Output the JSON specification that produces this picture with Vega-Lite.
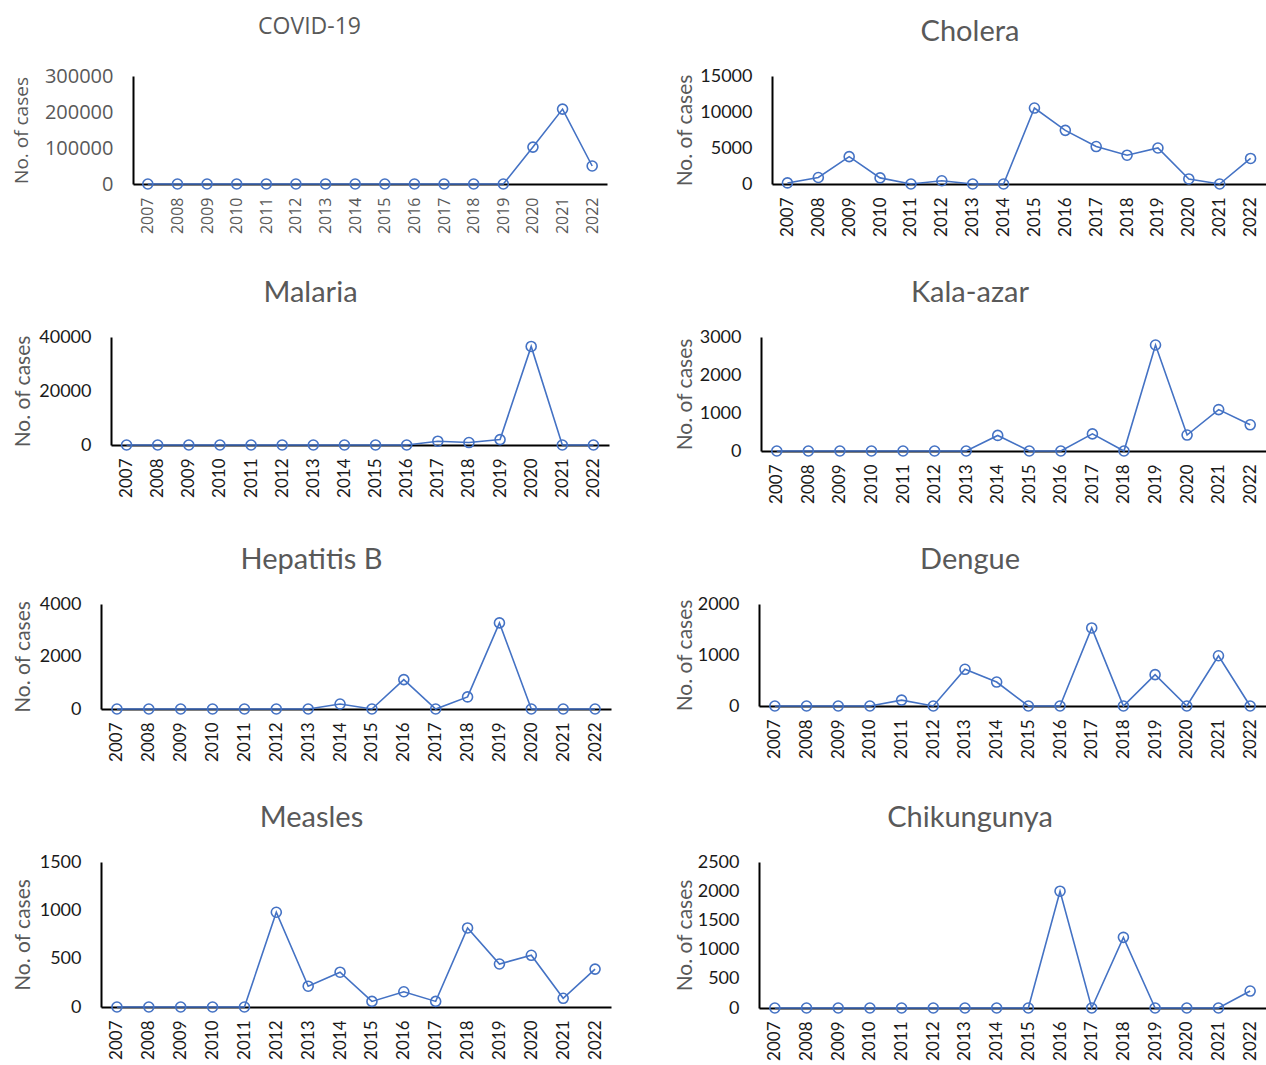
{
  "$schema": "https://vega.github.io/schema/vega-lite/v6.json",
  "padding": {"left": 0, "top": 16, "right": 0, "bottom": 0},
  "background": "white",
  "datasets": {
    "cases": [
      {"disease": "COVID-19", "year": "2007", "cases": 0},
      {"disease": "COVID-19", "year": "2008", "cases": 0},
      {"disease": "COVID-19", "year": "2009", "cases": 0},
      {"disease": "COVID-19", "year": "2010", "cases": 0},
      {"disease": "COVID-19", "year": "2011", "cases": 0},
      {"disease": "COVID-19", "year": "2012", "cases": 0},
      {"disease": "COVID-19", "year": "2013", "cases": 0},
      {"disease": "COVID-19", "year": "2014", "cases": 0},
      {"disease": "COVID-19", "year": "2015", "cases": 0},
      {"disease": "COVID-19", "year": "2016", "cases": 0},
      {"disease": "COVID-19", "year": "2017", "cases": 0},
      {"disease": "COVID-19", "year": "2018", "cases": 0},
      {"disease": "COVID-19", "year": "2019", "cases": 0},
      {"disease": "COVID-19", "year": "2020", "cases": 102500},
      {"disease": "COVID-19", "year": "2021", "cases": 208000},
      {"disease": "COVID-19", "year": "2022", "cases": 50000},

      {"disease": "Cholera", "year": "2007", "cases": 150},
      {"disease": "Cholera", "year": "2008", "cases": 900},
      {"disease": "Cholera", "year": "2009", "cases": 3800},
      {"disease": "Cholera", "year": "2010", "cases": 850},
      {"disease": "Cholera", "year": "2011", "cases": 0},
      {"disease": "Cholera", "year": "2012", "cases": 450},
      {"disease": "Cholera", "year": "2013", "cases": 0},
      {"disease": "Cholera", "year": "2014", "cases": 0},
      {"disease": "Cholera", "year": "2015", "cases": 10550},
      {"disease": "Cholera", "year": "2016", "cases": 7450},
      {"disease": "Cholera", "year": "2017", "cases": 5200},
      {"disease": "Cholera", "year": "2018", "cases": 4000},
      {"disease": "Cholera", "year": "2019", "cases": 5000},
      {"disease": "Cholera", "year": "2020", "cases": 700},
      {"disease": "Cholera", "year": "2021", "cases": 0},
      {"disease": "Cholera", "year": "2022", "cases": 3550},

      {"disease": "Malaria", "year": "2007", "cases": 0},
      {"disease": "Malaria", "year": "2008", "cases": 0},
      {"disease": "Malaria", "year": "2009", "cases": 0},
      {"disease": "Malaria", "year": "2010", "cases": 0},
      {"disease": "Malaria", "year": "2011", "cases": 0},
      {"disease": "Malaria", "year": "2012", "cases": 0},
      {"disease": "Malaria", "year": "2013", "cases": 0},
      {"disease": "Malaria", "year": "2014", "cases": 0},
      {"disease": "Malaria", "year": "2015", "cases": 0},
      {"disease": "Malaria", "year": "2016", "cases": 0},
      {"disease": "Malaria", "year": "2017", "cases": 1400},
      {"disease": "Malaria", "year": "2018", "cases": 900},
      {"disease": "Malaria", "year": "2019", "cases": 2000},
      {"disease": "Malaria", "year": "2020", "cases": 36500},
      {"disease": "Malaria", "year": "2021", "cases": 0},
      {"disease": "Malaria", "year": "2022", "cases": 0},

      {"disease": "Kala-azar", "year": "2007", "cases": 0},
      {"disease": "Kala-azar", "year": "2008", "cases": 0},
      {"disease": "Kala-azar", "year": "2009", "cases": 0},
      {"disease": "Kala-azar", "year": "2010", "cases": 0},
      {"disease": "Kala-azar", "year": "2011", "cases": 0},
      {"disease": "Kala-azar", "year": "2012", "cases": 0},
      {"disease": "Kala-azar", "year": "2013", "cases": 0},
      {"disease": "Kala-azar", "year": "2014", "cases": 410},
      {"disease": "Kala-azar", "year": "2015", "cases": 0},
      {"disease": "Kala-azar", "year": "2016", "cases": 0},
      {"disease": "Kala-azar", "year": "2017", "cases": 450},
      {"disease": "Kala-azar", "year": "2018", "cases": 0},
      {"disease": "Kala-azar", "year": "2019", "cases": 2790},
      {"disease": "Kala-azar", "year": "2020", "cases": 420},
      {"disease": "Kala-azar", "year": "2021", "cases": 1090},
      {"disease": "Kala-azar", "year": "2022", "cases": 690},

      {"disease": "Hepatitis B", "year": "2007", "cases": 0},
      {"disease": "Hepatitis B", "year": "2008", "cases": 0},
      {"disease": "Hepatitis B", "year": "2009", "cases": 0},
      {"disease": "Hepatitis B", "year": "2010", "cases": 0},
      {"disease": "Hepatitis B", "year": "2011", "cases": 0},
      {"disease": "Hepatitis B", "year": "2012", "cases": 0},
      {"disease": "Hepatitis B", "year": "2013", "cases": 0},
      {"disease": "Hepatitis B", "year": "2014", "cases": 190},
      {"disease": "Hepatitis B", "year": "2015", "cases": 0},
      {"disease": "Hepatitis B", "year": "2016", "cases": 1120},
      {"disease": "Hepatitis B", "year": "2017", "cases": 0},
      {"disease": "Hepatitis B", "year": "2018", "cases": 460},
      {"disease": "Hepatitis B", "year": "2019", "cases": 3280},
      {"disease": "Hepatitis B", "year": "2020", "cases": 0},
      {"disease": "Hepatitis B", "year": "2021", "cases": 0},
      {"disease": "Hepatitis B", "year": "2022", "cases": 0},

      {"disease": "Dengue", "year": "2007", "cases": 0},
      {"disease": "Dengue", "year": "2008", "cases": 0},
      {"disease": "Dengue", "year": "2009", "cases": 0},
      {"disease": "Dengue", "year": "2010", "cases": 0},
      {"disease": "Dengue", "year": "2011", "cases": 115},
      {"disease": "Dengue", "year": "2012", "cases": 0},
      {"disease": "Dengue", "year": "2013", "cases": 720},
      {"disease": "Dengue", "year": "2014", "cases": 470},
      {"disease": "Dengue", "year": "2015", "cases": 0},
      {"disease": "Dengue", "year": "2016", "cases": 0},
      {"disease": "Dengue", "year": "2017", "cases": 1530},
      {"disease": "Dengue", "year": "2018", "cases": 0},
      {"disease": "Dengue", "year": "2019", "cases": 615},
      {"disease": "Dengue", "year": "2020", "cases": 0},
      {"disease": "Dengue", "year": "2021", "cases": 985},
      {"disease": "Dengue", "year": "2022", "cases": 0},

      {"disease": "Measles", "year": "2007", "cases": 0},
      {"disease": "Measles", "year": "2008", "cases": 0},
      {"disease": "Measles", "year": "2009", "cases": 0},
      {"disease": "Measles", "year": "2010", "cases": 0},
      {"disease": "Measles", "year": "2011", "cases": 0},
      {"disease": "Measles", "year": "2012", "cases": 980},
      {"disease": "Measles", "year": "2013", "cases": 215},
      {"disease": "Measles", "year": "2014", "cases": 360},
      {"disease": "Measles", "year": "2015", "cases": 58},
      {"disease": "Measles", "year": "2016", "cases": 158},
      {"disease": "Measles", "year": "2017", "cases": 58},
      {"disease": "Measles", "year": "2018", "cases": 818},
      {"disease": "Measles", "year": "2019", "cases": 445},
      {"disease": "Measles", "year": "2020", "cases": 535},
      {"disease": "Measles", "year": "2021", "cases": 90},
      {"disease": "Measles", "year": "2022", "cases": 392},

      {"disease": "Chikungunya", "year": "2007", "cases": 0},
      {"disease": "Chikungunya", "year": "2008", "cases": 0},
      {"disease": "Chikungunya", "year": "2009", "cases": 0},
      {"disease": "Chikungunya", "year": "2010", "cases": 0},
      {"disease": "Chikungunya", "year": "2011", "cases": 0},
      {"disease": "Chikungunya", "year": "2012", "cases": 0},
      {"disease": "Chikungunya", "year": "2013", "cases": 0},
      {"disease": "Chikungunya", "year": "2014", "cases": 0},
      {"disease": "Chikungunya", "year": "2015", "cases": 0},
      {"disease": "Chikungunya", "year": "2016", "cases": 2000},
      {"disease": "Chikungunya", "year": "2017", "cases": 0},
      {"disease": "Chikungunya", "year": "2018", "cases": 1210},
      {"disease": "Chikungunya", "year": "2019", "cases": 0},
      {"disease": "Chikungunya", "year": "2020", "cases": 0},
      {"disease": "Chikungunya", "year": "2021", "cases": 0},
      {"disease": "Chikungunya", "year": "2022", "cases": 290}
    ]
  },
  "data": {"name": "cases"},
  "spacing": 42,
  "vconcat": [
    {
      "spacing": 6,
      "hconcat": [
        {"width": 6, "height": 1, "transform": [{"filter": "false"}], "mark": "rule", "encoding": {}},
        {
          "title": {"text": "COVID-19", "font": "Open Sans", "fontSize": 23, "offset": 27},
          "width": 474, "height": 108,
          "transform": [{"filter": "datum.disease === 'COVID-19'"}],
          "encoding": {
            "x": {"field": "year", "type": "ordinal", "sort": null, "scale": {"type": "point", "padding": 0.5},
                  "axis": {"title": null, "labelFont": "Open Sans", "labelColor": "#595959", "labelFontSize": 16}},
            "y": {"field": "cases", "type": "quantitative", "scale": {"domain": [0, 300000], "nice": false},
                  "axis": {"title": "No. of cases", "format": "d", "values": [0, 100000, 200000, 300000], "minExtent": 100, "maxExtent": 100,
                           "labelFont": "Open Sans", "labelColor": "#595959", "labelFontSize": 20, "titleFont": "Open Sans", "titleFontSize": 19, "titlePadding": 2}}
          },
          "layer": [{"mark": "line"}, {"mark": "point"}]
        },
        {"width": 55, "height": 1, "transform": [{"filter": "false"}], "mark": "rule", "encoding": {}},
        {
          "title": {"text": "Cholera"},
          "width": 494, "height": 108,
          "transform": [{"filter": "datum.disease === 'Cholera'"}],
          "encoding": {
            "x": {"field": "year", "type": "ordinal", "sort": null, "scale": {"type": "point", "padding": 0.5}, "axis": {"title": null}},
            "y": {"field": "cases", "type": "quantitative", "scale": {"domain": [0, 15000], "nice": false},
                  "axis": {"title": "No. of cases", "format": "d", "values": [0, 5000, 10000, 15000], "minExtent": 76, "maxExtent": 76}}
          },
          "layer": [{"mark": "line"}, {"mark": "point"}]
        }
      ]
    },
    {
      "spacing": 6,
      "hconcat": [
        {"width": 6, "height": 1, "transform": [{"filter": "false"}], "mark": "rule", "encoding": {}},
        {
          "title": {"text": "Malaria"},
          "width": 498, "height": 108,
          "transform": [{"filter": "datum.disease === 'Malaria'"}],
          "encoding": {
            "x": {"field": "year", "type": "ordinal", "sort": null, "scale": {"type": "point", "padding": 0.5}, "axis": {"title": null}},
            "y": {"field": "cases", "type": "quantitative", "scale": {"domain": [0, 40000], "nice": false},
                  "axis": {"title": "No. of cases", "format": "d", "values": [0, 20000, 40000], "minExtent": 77, "maxExtent": 77}}
          },
          "layer": [{"mark": "line"}, {"mark": "point"}]
        },
        {"width": 53, "height": 1, "transform": [{"filter": "false"}], "mark": "rule", "encoding": {}},
        {
          "title": {"text": "Kala-azar"},
          "width": 505, "height": 114,
          "transform": [{"filter": "datum.disease === 'Kala-azar'"}],
          "encoding": {
            "x": {"field": "year", "type": "ordinal", "sort": null, "scale": {"type": "point", "padding": 0.5}, "axis": {"title": null}},
            "y": {"field": "cases", "type": "quantitative", "scale": {"domain": [0, 3000], "nice": false},
                  "axis": {"title": "No. of cases", "format": "d", "values": [0, 1000, 2000, 3000], "minExtent": 65, "maxExtent": 65}}
          },
          "layer": [{"mark": "line"}, {"mark": "point"}]
        }
      ]
    },
    {
      "spacing": 6,
      "hconcat": [
        {"width": 6, "height": 1, "transform": [{"filter": "false"}], "mark": "rule", "encoding": {}},
        {
          "title": {"text": "Hepatitis B"},
          "width": 510, "height": 105,
          "transform": [{"filter": "datum.disease === 'Hepatitis B'"}],
          "encoding": {
            "x": {"field": "year", "type": "ordinal", "sort": null, "scale": {"type": "point", "padding": 0.5}, "axis": {"title": null}},
            "y": {"field": "cases", "type": "quantitative", "scale": {"domain": [0, 4000], "nice": false},
                  "axis": {"title": "No. of cases", "format": "d", "values": [0, 2000, 4000], "minExtent": 67, "maxExtent": 67}}
          },
          "layer": [{"mark": "line"}, {"mark": "point"}]
        },
        {"width": 51, "height": 1, "transform": [{"filter": "false"}], "mark": "rule", "encoding": {}},
        {
          "title": {"text": "Dengue"},
          "width": 507, "height": 102,
          "transform": [{"filter": "datum.disease === 'Dengue'"}],
          "encoding": {
            "x": {"field": "year", "type": "ordinal", "sort": null, "scale": {"type": "point", "padding": 0.5}, "axis": {"title": null}},
            "y": {"field": "cases", "type": "quantitative", "scale": {"domain": [0, 2000], "nice": false},
                  "axis": {"title": "No. of cases", "format": "d", "values": [0, 1000, 2000], "minExtent": 63, "maxExtent": 63}}
          },
          "layer": [{"mark": "line"}, {"mark": "point"}]
        }
      ]
    },
    {
      "spacing": 6,
      "hconcat": [
        {"width": 6, "height": 1, "transform": [{"filter": "false"}], "mark": "rule", "encoding": {}},
        {
          "title": {"text": "Measles"},
          "width": 510, "height": 145,
          "transform": [{"filter": "datum.disease === 'Measles'"}],
          "encoding": {
            "x": {"field": "year", "type": "ordinal", "sort": null, "scale": {"type": "point", "padding": 0.5}, "axis": {"title": null}},
            "y": {"field": "cases", "type": "quantitative", "scale": {"domain": [0, 1500], "nice": false},
                  "axis": {"title": "No. of cases", "format": "d", "values": [0, 500, 1000, 1500], "minExtent": 67, "maxExtent": 67}}
          },
          "layer": [{"mark": "line"}, {"mark": "point"}]
        },
        {"width": 51, "height": 1, "transform": [{"filter": "false"}], "mark": "rule", "encoding": {}},
        {
          "title": {"text": "Chikungunya"},
          "width": 507, "height": 146,
          "transform": [{"filter": "datum.disease === 'Chikungunya'"}],
          "encoding": {
            "x": {"field": "year", "type": "ordinal", "sort": null, "scale": {"type": "point", "padding": 0.5}, "axis": {"title": null}},
            "y": {"field": "cases", "type": "quantitative", "scale": {"domain": [0, 2500], "nice": false},
                  "axis": {"title": "No. of cases", "format": "d", "values": [0, 500, 1000, 1500, 2000, 2500], "minExtent": 63, "maxExtent": 63}}
          },
          "layer": [{"mark": "line"}, {"mark": "point"}]
        }
      ]
    }
  ],
  "config": {
    "font": "Lato",
    "view": {"stroke": null},
    "axis": {"grid": false, "ticks": false, "tickSize": 0, "domainColor": "#000000", "domainWidth": 2,
             "labelFont": "Lato", "titleFont": "Lato", "titleFontWeight": "normal", "titleColor": "#595959", "labelColor": "#1a1a1a"},
    "axisX": {"labelAngle": -90, "labelFontSize": 17, "labelPadding": 13},
    "axisY": {"labelFontSize": 18, "labelPadding": 20, "titleFontSize": 21, "titlePadding": 1},
    "title": {"fontSize": 29, "fontWeight": "normal", "color": "#595959", "font": "Lato", "frame": "bounds", "offset": 20, "anchor": "middle"},
    "line": {"color": "#4472C4", "strokeWidth": 1.6},
    "point": {"color": "#4472C4", "filled": false, "size": 100, "strokeWidth": 1.6, "opacity": 1}
  }
}
